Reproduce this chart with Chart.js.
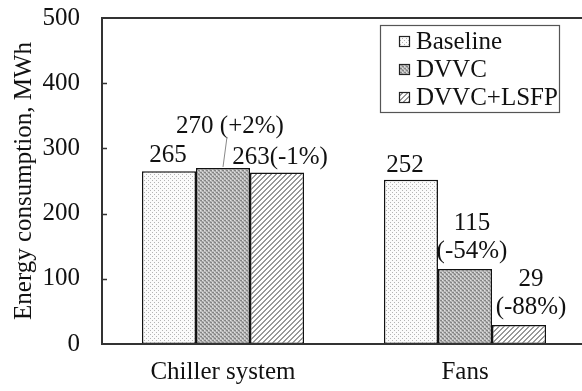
<!DOCTYPE html>
<html>
<head>
<meta charset="utf-8">
<script src="https://cdn.jsdelivr.net/npm/chart.js@4/dist/chart.umd.min.js"></script>
<style>
html,body{margin:0;padding:0;background:#fff;overflow:hidden;}
#wrap{width:600px;height:391px;}
</style>
</head>
<body>
<div id="wrap"><canvas id="c" width="600" height="391"></canvas></div>
<script>
// ---- data ----
const categories = ["Chiller system", "Fans"];
const seriesNames = ["Baseline", "DVVC", "DVVC+LSFP"];
const baselineValues = [265, 252];
const dvvcValues = [270, 115];
const lsfpValues = [263, 29];
const baselineLabels = ["265", "252"];
const dvvcLabels = ["270 (+2%)", "115\n(-54%)"];
const lsfpLabels = ["263(-1%)", "29\n(-88%)"];
const yTicks = [0, 100, 200, 300, 400, 500];
const yTitle = "Energy consumption, MWh";

// ---- styles ----
const FONT = "'Liberation Serif', 'Times New Roman', serif";
const FS = 25;

function makePattern(kind) {
  const c = document.createElement('canvas');
  const ctx = c.getContext('2d');
  if (kind === 'dots') {
    c.width = 4; c.height = 4;
    ctx.fillStyle = '#fbfbfb'; ctx.fillRect(0, 0, 4, 4);
    ctx.fillStyle = '#b4b4b4';
    ctx.fillRect(0, 0, 1, 1);
    ctx.fillRect(2, 2, 1, 1);
  } else if (kind === 'dense') {
    c.width = 4; c.height = 4;
    ctx.fillStyle = '#c0c0c0'; ctx.fillRect(0, 0, 4, 4);
    ctx.fillStyle = '#858585';
    ctx.fillRect(0, 0, 2, 1); ctx.fillRect(2, 2, 2, 1);
    ctx.fillStyle = '#e0e0e0';
    ctx.fillRect(2, 0, 1, 1); ctx.fillRect(0, 2, 1, 1);
    ctx.fillStyle = '#a0a0a0';
    ctx.fillRect(1, 1, 2, 1); ctx.fillRect(3, 3, 1, 1);
  } else {
    c.width = 5; c.height = 5;
    ctx.fillStyle = '#ffffff'; ctx.fillRect(0, 0, 5, 5);
    ctx.fillStyle = '#999999';
    for (let i = 0; i < 5; i++) {
      ctx.fillRect(4 - i, i, 1, 1);
      ctx.fillRect((4 - i + 1) % 5, i, 1, 1);
    }
  }
  return ctx.createPattern(c, 'repeat');
}
const fills = [makePattern('dots'), makePattern('dense'), makePattern('hatch')];

// label layout (offsets from bar top / centre), style only
const labelLayout = [
  [{dx: -1, dy: -9}, {dx: -6, dy: -8}],
  [{dx: 7, dy: -35, leader: true}, {dx: 7, dy: -11}],
  [{dx: 3, dy: -9}, {dx: 12, dy: -11}]
];
const labelSets = [baselineLabels, dvvcLabels, lsfpLabels];

const framePlugin = {
  id: 'frame',
  afterDatasetsDraw(chart) {
    const {ctx, chartArea: a, scales} = chart;
    ctx.save();
    ctx.strokeStyle = '#333';
    ctx.lineWidth = 2;
    ctx.beginPath();
    ctx.rect(a.left, a.top, a.right - a.left, a.bottom - a.top);
    ctx.stroke();
    ctx.lineWidth = 1.5;
    ctx.beginPath();
    yTicks.forEach(v => {
      if (v === 0 || v === 500) return;
      const y = Math.round(scales.y.getPixelForValue(v)) + 0.5;
      ctx.moveTo(a.left, y); ctx.lineTo(a.left + 5, y);
    });
    ctx.stroke();
    ctx.restore();
  }
};

const labelPlugin = {
  id: 'vlabels',
  afterDatasetsDraw(chart) {
    const ctx = chart.ctx;
    ctx.save();
    ctx.font = FS + 'px ' + FONT;
    ctx.fillStyle = '#111';
    ctx.textAlign = 'center';
    ctx.textBaseline = 'alphabetic';
    chart.data.datasets.forEach((ds, di) => {
      const meta = chart.getDatasetMeta(di);
      meta.data.forEach((bar, i) => {
        const lay = labelLayout[di][i];
        const lines = labelSets[di][i].split('\n');
        const x = bar.x + lay.dx;
        const lastY = bar.y + lay.dy;
        lines.forEach((t, k) => {
          ctx.fillText(t, x, lastY - (lines.length - 1 - k) * 28);
        });
        if (lay.leader) {
          ctx.strokeStyle = '#888';
          ctx.lineWidth = 1;
          ctx.beginPath();
          ctx.moveTo(bar.x + 4, bar.y - 31);
          ctx.lineTo(bar.x, bar.y - 1);
          ctx.stroke();
        }
      });
    });
    ctx.restore();
  }
};

const legendPlugin = {
  id: 'customLegend',
  afterDraw(chart) {
    const ctx = chart.ctx;
    const bx = 380, by = 25, bw = 179, bh = 87;
    ctx.save();
    ctx.fillStyle = '#fff';
    ctx.fillRect(bx, by, bw, bh);
    ctx.strokeStyle = '#555';
    ctx.lineWidth = 1.2;
    ctx.strokeRect(bx + 0.5, by + 0.5, bw, bh);
    ctx.font = FS + 'px ' + FONT;
    ctx.textBaseline = 'middle';
    ctx.textAlign = 'left';
    chart.data.datasets.forEach((ds, i) => {
      const cy = 41 + i * 28;
      ctx.fillStyle = ds.backgroundColor;
      ctx.fillRect(399, cy - 5, 11, 11);
      ctx.strokeStyle = '#222';
      ctx.lineWidth = 1.2;
      ctx.strokeRect(399.5, cy - 4.5, 10, 10);
      ctx.fillStyle = '#111';
      ctx.fillText(ds.label, 416, cy + 1);
    });
    ctx.restore();
  }
};

new Chart(document.getElementById('c'), {
  type: 'bar',
  data: {
    labels: categories,
    datasets: [
      {label: seriesNames[0], data: baselineValues, backgroundColor: fills[0]},
      {label: seriesNames[1], data: dvvcValues, backgroundColor: fills[1]},
      {label: seriesNames[2], data: lsfpValues, backgroundColor: fills[2]}
    ]
  },
  options: {
    responsive: false,
    animation: false,
    devicePixelRatio: 1,
    layout: {padding: {top: 18, right: 14, left: 0, bottom: 0}},
    datasets: {
      bar: {
        categoryPercentage: 0.67,
        barPercentage: 1.0,
        borderColor: '#111',
        borderWidth: 1.5,
        borderSkipped: false
      }
    },
    plugins: {legend: {display: false}, tooltip: {enabled: false}},
    scales: {
      x: {
        grid: {display: false, drawTicks: false},
        border: {display: false},
        ticks: {color: '#111', font: {family: FONT, size: FS}, padding: 13},
        afterFit(s) { s.height = 47; s.paddingLeft = 0; s.paddingRight = 0; }
      },
      y: {
        min: 0, max: 500,
        afterBuildTicks(s) { s.ticks = yTicks.map(v => ({value: v})); },
        grid: {display: false, drawTicks: false},
        border: {display: false},
        ticks: {color: '#111', font: {family: FONT, size: FS}, padding: 22},
        title: {display: true, text: yTitle, color: '#111', font: {family: FONT, size: FS}, padding: {top: 9, bottom: 0}},
        afterFit(s) { s.width = 102; s.paddingTop = 0; s.paddingBottom = 0; }
      }
    }
  },
  plugins: [framePlugin, labelPlugin, legendPlugin]
});
</script>
</body>
</html>
